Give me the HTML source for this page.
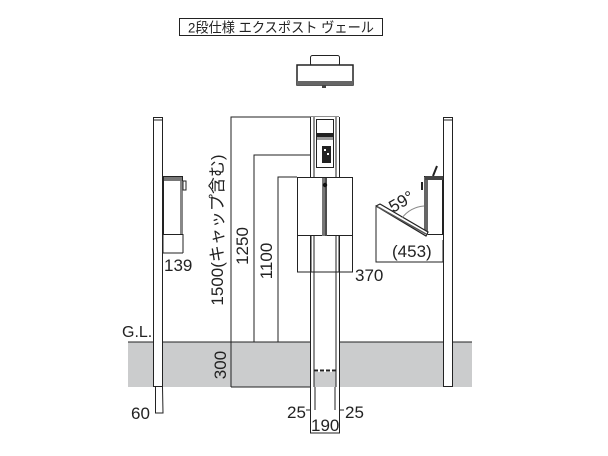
<!DOCTYPE html>
<html><head><meta charset="utf-8"><style>
html,body{margin:0;padding:0;background:#fff}
svg{display:block}
text{font-family:"Liberation Sans Narrow","Liberation Sans",sans-serif;fill:#222}
.j{font-family:"Liberation Sans","Noto Sans CJK JP",sans-serif}
</style></head><body>
<svg width="608" height="456" viewBox="0 0 608 456" xmlns="http://www.w3.org/2000/svg">
<rect x="179.5" y="18.5" width="203" height="17" fill="#fff" stroke="#222" stroke-width="1"/>
<text x="281" y="32.5" class="j" font-size="14" text-anchor="middle" textLength="186" lengthAdjust="spacingAndGlyphs" fill="#222">2段仕様 エクスポスト ヴェール</text>
<rect x="310.5" y="55.5" width="29" height="10" rx="2" fill="#fff" stroke="#222"/>
<rect x="297" y="65" width="56" height="20" fill="#fff" stroke="#222" stroke-width="1.5"/>
<rect x="297" y="81" width="56" height="4" fill="#666"/>
<rect x="322" y="85" width="4" height="3" fill="#444"/>
<rect x="128" y="342" width="344" height="45" fill="#cbcccd"/>
<line x1="128" y1="342" x2="472" y2="342" stroke="#222" stroke-width="1"/>
<text x="122" y="337" font-size="16">G.L.</text>
<rect x="153.5" y="117.5" width="9" height="269" fill="#fff" stroke="#222"/>
<line x1="153" y1="120" x2="163" y2="120" stroke="#222"/>
<polyline points="155.5,387 155.5,413 163,413 162.5,387" fill="none" stroke="#222"/>
<text x="131" y="419" font-size="17">60</text>
<rect x="163.5" y="176.5" width="19" height="58" fill="#fff" stroke="#222"/>
<rect x="164" y="177" width="18" height="4" fill="#777"/>
<rect x="180" y="181" width="3" height="53" fill="#888"/>
<rect x="183" y="181" width="3" height="9" fill="#fff" stroke="#222"/>
<line x1="163" y1="234" x2="163" y2="253" stroke="#222"/>
<line x1="183" y1="234" x2="183" y2="253" stroke="#222"/>
<line x1="163" y1="253" x2="183" y2="253" stroke="#222"/>
<text x="164" y="271" font-size="17">139</text>
<polyline points="231,387 231,117 339,117" fill="none" stroke="#222"/>
<polyline points="254,342 254,155 322,155" fill="none" stroke="#222"/>
<polyline points="278,342 278,177 297,177" fill="none" stroke="#222"/>
<line x1="231" y1="387" x2="310" y2="387" stroke="#222"/>
<text transform="translate(223,230) rotate(-90)" class="j" font-size="17" text-anchor="middle">1500(キャップ含む)</text>
<text transform="translate(248,246) rotate(-90)" font-size="17" text-anchor="middle">1250</text>
<text transform="translate(272,261) rotate(-90)" font-size="17" text-anchor="middle">1100</text>
<text transform="translate(226,365) rotate(-90)" font-size="17" text-anchor="middle">300</text>
<rect x="310" y="117" width="30" height="270" fill="#fff"/>
<rect x="314" y="342" width="22" height="28" fill="#fff"/>
<rect x="314" y="372" width="22" height="15" fill="#cbcccd"/>
<line x1="314" y1="370.5" x2="336" y2="370.5" stroke="#222" stroke-width="2" stroke-dasharray="4,2"/>
<line x1="310.5" y1="117" x2="310.5" y2="410" stroke="#222"/>
<line x1="339.5" y1="117" x2="339.5" y2="410" stroke="#222"/>
<line x1="314" y1="117" x2="314" y2="387" stroke="#222"/>
<line x1="336" y1="117" x2="336" y2="387" stroke="#222"/>
<line x1="315" y1="387" x2="315" y2="410" stroke="#222"/>
<line x1="335" y1="387" x2="335" y2="410" stroke="#222"/>
<rect x="316.5" y="119.5" width="17" height="48" fill="#fff" stroke="#222"/>
<rect x="317" y="133" width="16" height="4" fill="#222"/>
<rect x="317" y="137" width="16" height="3" fill="#999"/>
<rect x="322" y="146" width="9" height="17" fill="#222"/>
<rect x="324" y="149" width="2" height="2" fill="#fff"/><rect x="327" y="153" width="2" height="2" fill="#fff"/>
<rect x="297.5" y="177.5" width="55" height="58" fill="#fff" stroke="#222"/>
<rect x="322" y="178" width="5" height="58" fill="#777"/>
<line x1="326" y1="178" x2="326" y2="236" stroke="#222"/>
<circle cx="325" cy="185" r="2.2" fill="#111"/>
<polyline points="297.5,236 297.5,272 352.5,272 352.5,236" fill="none" stroke="#222"/>
<line x1="311" y1="236" x2="311" y2="272" stroke="#222"/><line x1="314" y1="236" x2="314" y2="272" stroke="#222"/>
<line x1="336" y1="236" x2="336" y2="272" stroke="#222"/><line x1="339" y1="236" x2="339" y2="272" stroke="#222"/>
<text x="355" y="281" font-size="17">370</text>
<line x1="306" y1="410" x2="311" y2="410" stroke="#222"/>
<line x1="339" y1="410" x2="344" y2="410" stroke="#222"/>
<text x="287" y="418" font-size="17">25</text>
<text x="345" y="418" font-size="17">25</text>
<polyline points="310.5,410 310.5,433 339.5,433 339.5,410" fill="none" stroke="#222"/>
<text x="311" y="431" font-size="17">190</text>
<rect x="443.5" y="117.5" width="9" height="269" fill="#fff" stroke="#222"/>
<line x1="443" y1="120" x2="453" y2="120" stroke="#222"/>
<rect x="424.5" y="176.5" width="18" height="58" fill="#fff" stroke="#222"/>
<rect x="424" y="177" width="4" height="58" fill="#666"/>
<rect x="425" y="176" width="18" height="4" fill="#444"/>
<line x1="433" y1="176" x2="437" y2="166" stroke="#222" stroke-width="2"/>
<rect x="421" y="182" width="2" height="8" fill="#222"/>
<polygon points="376,206 380,204 428,232 426,236" fill="#fff" stroke="#222" stroke-width="1.2"/>
<line x1="378" y1="207" x2="426" y2="234" stroke="#555" stroke-width="1.5"/>
<path d="M402,218 A30,30 0 0 1 424,206" fill="none" stroke="#888"/>
<text transform="translate(393,213) rotate(-30)" font-size="17">59°</text>
<polyline points="376,207 376,262 443,262" fill="none" stroke="#222"/>
<line x1="443" y1="240" x2="443" y2="262" stroke="#222"/>
<text x="392" y="257" font-size="17">(453)</text>
</svg>
</body></html>
